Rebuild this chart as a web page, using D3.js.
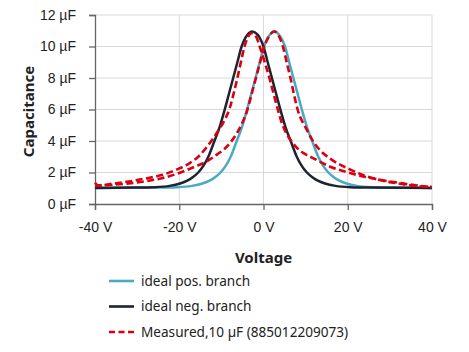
<!DOCTYPE html>
<html>
<head>
<meta charset="utf-8">
<script src="https://cdn.jsdelivr.net/npm/d3@7"></script>
<style>
  html, body { margin: 0; padding: 0; background: #fff; }
  svg { display: block; font-family: "Noto Sans", "Open Sans", sans-serif; }
  .tick text { font-size: 14px; fill: #222; }
</style>
</head>
<body>
<svg id="chart" width="469" height="352"></svg>
<script>
// ── Data ──────────────────────────────────────────────────────────────────
const xTicks = [-40, -20, 0, 20, 40];
const yTicks = [0, 2, 4, 6, 8, 10, 12];

// ideal negative branch (black), [voltage, µF]
const idealNeg = [
  [-40, 1.02], [-30.8, 1.04], [-25.8, 1.07], [-22.3, 1.15], [-19.8, 1.3], [-18.1, 1.48],
  [-16.8, 1.7], [-15.5, 2.0], [-14.2, 2.45], [-13.1, 3.0], [-11.65, 4.0], [-10.4, 4.9],
  [-9.2, 6.0], [-8.2, 7.0], [-7.2, 8.0], [-6.2, 9.0], [-5.2, 10.0], [-4.6, 10.4],
  [-3.8, 10.75], [-2.7, 10.95], [-1.4, 10.75], [-0.6, 10.4], [0, 10.0], [1.0, 9.0],
  [2.0, 8.0], [3.0, 7.0], [4.0, 6.0], [5.2, 4.9], [6.45, 4.0], [7.9, 3.0],
  [9.0, 2.45], [10.3, 2.0], [11.6, 1.7], [12.9, 1.48], [14.6, 1.3], [17.1, 1.15],
  [20.6, 1.07], [25.6, 1.04], [40, 1.02]
];

// ideal positive branch (teal)
const idealPos = [
  [-40, 1.02], [-25.5, 1.04], [-20.5, 1.07], [-17, 1.15], [-14.5, 1.3], [-12.8, 1.48],
  [-11.5, 1.7], [-10.2, 2.0], [-8.9, 2.45], [-7.8, 3.0], [-6.35, 4.0], [-5.1, 4.9],
  [-3.9, 6.0], [-2.9, 7.0], [-1.9, 8.0], [-0.9, 9.0], [0.1, 10.0], [0.7, 10.4],
  [1.5, 10.75], [2.6, 10.97], [3.7, 10.75], [4.5, 10.4], [5.1, 10.0], [6.1, 9.0],
  [7.1, 8.0], [8.1, 7.0], [9.1, 6.0], [10.3, 4.9], [11.55, 4.0], [13.0, 3.0],
  [14.1, 2.45], [15.4, 2.0], [16.7, 1.7], [18.0, 1.48], [19.7, 1.3], [22.2, 1.15],
  [25.7, 1.07], [30.7, 1.04], [40, 1.02]
];

// measured, sweep with its peak on the negative side (red dashed)
const measuredNeg = [
  [-40, 1.35], [-39.2, 1.18], [-36, 1.28], [-32, 1.43], [-28, 1.62], [-24, 1.85],
  [-20.5, 2.2], [-17.5, 2.6], [-15.3, 3.05], [-13.5, 3.6], [-12.0, 4.15], [-10.5, 4.75],
  [-9.2, 5.35], [-8.0, 6.1], [-7.1, 7.0], [-6.2, 8.0], [-5.3, 9.1], [-4.5, 10.0],
  [-3.7, 10.6], [-2.8, 10.85], [-1.7, 10.6], [-0.9, 10.0], [0.3, 9.0], [1.4, 8.0],
  [2.4, 7.0], [3.4, 6.0], [4.4, 5.1], [5.4, 4.5], [6.6, 4.0], [8.0, 3.55],
  [9.7, 3.2], [11.5, 2.95], [13.3, 2.7], [16, 2.35], [19.5, 2.05], [23.6, 1.75],
  [28, 1.52], [33, 1.31], [36.5, 1.17], [40, 1.06]
];

// measured, sweep with its peak on the positive side (red dashed)
const measuredPos = [
  [-40, 1.15], [-36, 1.22], [-32, 1.31], [-28, 1.45], [-24.2, 1.63], [-20.2, 1.95],
  [-16.3, 2.37], [-13.5, 2.7], [-11.8, 3.0], [-8.5, 3.7], [-6.3, 4.5], [-5.3, 5.0],
  [-3.8, 6.0], [-2.8, 7.0], [-1.8, 8.0], [-0.8, 9.0], [0.2, 10.0], [1.2, 10.6],
  [2.5, 10.95], [3.7, 10.65], [4.6, 10.0], [5.5, 9.0], [6.4, 8.0], [7.2, 7.0],
  [8.1, 6.0], [10.2, 4.75], [11.5, 4.1], [13.3, 3.45], [16.0, 2.85], [20.5, 2.2],
  [24, 1.8], [27.6, 1.52], [32, 1.3], [36, 1.15], [40, 1.08]
];

const legendLabels = ['ideal pos. branch', 'ideal neg. branch', 'Measured,10 µF (885012209073)'];

// ── Layout ────────────────────────────────────────────────────────────────
const svg = d3.select('#chart');
const plot = { left: 95, right: 432, top: 15, bottom: 204 };

const x = d3.scaleLinear().domain([-40, 40]).range([plot.left, plot.right]);
const y = d3.scaleLinear().domain([0, 12]).range([plot.bottom, plot.top]);

const colors = { pos: '#4aaac4', neg: '#1e2330', meas: '#d90012' };

// gridlines
svg.append('g')
  .selectAll('line')
  .data(yTicks.filter(v => v > 0))
  .join('line')
  .attr('x1', plot.left).attr('x2', plot.right)
  .attr('y1', d => y(d)).attr('y2', d => y(d))
  .attr('stroke', '#d9d9d9').attr('stroke-width', 1);

svg.append('g')
  .selectAll('line')
  .data(xTicks.filter(v => v > -40))
  .join('line')
  .attr('x1', d => x(d)).attr('x2', d => x(d))
  .attr('y1', plot.top).attr('y2', plot.bottom)
  .attr('stroke', '#d9d9d9').attr('stroke-width', 1);

// axes
const yAxis = svg.append('g')
  .attr('transform', `translate(${plot.left},0)`)
  .call(d3.axisLeft(y).tickValues(yTicks).tickSize(6).tickPadding(12).tickFormat(d => `${d} µF`));
yAxis.select('.domain').attr('stroke', '#666').attr('stroke-width', 1.3);
yAxis.selectAll('.tick line').attr('stroke', '#666').attr('stroke-width', 1.3);
yAxis.selectAll('.tick text').attr('font-size', 14).attr('dx', -1);

const xAxis = svg.append('g')
  .attr('transform', `translate(0,${plot.bottom})`)
  .call(d3.axisBottom(x).tickValues(xTicks).tickSize(6).tickPadding(12).tickFormat(d => `${d} V`));
xAxis.select('.domain').attr('stroke', '#666').attr('stroke-width', 1.3);
xAxis.selectAll('.tick line').attr('stroke', '#666').attr('stroke-width', 1.3);
xAxis.selectAll('.tick text').attr('font-size', 14);

// axis titles
svg.append('text')
  .attr('x', (plot.left + plot.right) / 2).attr('y', 263)
  .attr('text-anchor', 'middle')
  .attr('font-size', 15).attr('font-weight', 700).attr('fill', '#222')
  .text('Voltage');

svg.append('text')
  .attr('transform', `translate(34,${(plot.top + plot.bottom) / 2 + 2}) rotate(-90)`)
  .attr('text-anchor', 'middle')
  .attr('font-size', 15).attr('font-weight', 700).attr('fill', '#222')
  .text('Capacitance');

// curves
const line = d3.line()
  .x(d => x(d[0]))
  .y(d => y(d[1]))
  .curve(d3.curveMonotoneX);

svg.append('path').datum(idealPos)
  .attr('d', line).attr('fill', 'none')
  .attr('stroke', colors.pos).attr('stroke-width', 2.5);

svg.append('path').datum(idealNeg)
  .attr('d', line).attr('fill', 'none')
  .attr('stroke', colors.neg).attr('stroke-width', 2.5);

[measuredNeg, measuredPos].forEach(series => {
  svg.append('path').datum(series)
    .attr('d', line).attr('fill', 'none')
    .attr('stroke', colors.meas).attr('stroke-width', 2.6)
    .attr('stroke-dasharray', '7,3.5');
});

// legend
const legendColors = [colors.pos, colors.neg, colors.meas];
const legend = svg.append('g');
legendLabels.forEach((label, i) => {
  const ly = 281 + i * 25.5;
  legend.append('line')
    .attr('x1', 109).attr('x2', 134)
    .attr('y1', ly).attr('y2', ly)
    .attr('stroke', legendColors[i]).attr('stroke-width', 2.6)
    .attr('stroke-dasharray', i === 2 ? '6,3.5' : null);
  legend.append('text')
    .attr('x', 141).attr('y', ly)
    .attr('dy', '0.35em')
    .attr('font-size', 13.6).attr('fill', '#222')
    .text(label);
});
</script>
</body>
</html>
